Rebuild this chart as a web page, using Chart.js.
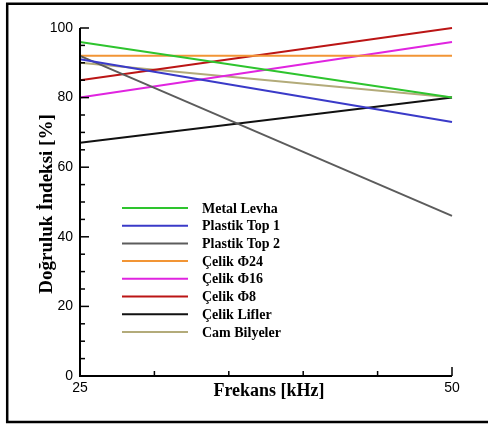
<!DOCTYPE html>
<html>
<head>
<meta charset="utf-8">
<script src="https://cdn.jsdelivr.net/npm/chart.js@4.4.0/dist/chart.umd.min.js"></script>
<style>
  html, body { margin: 0; padding: 0; background: #fff; }
  #wrap { width: 488px; height: 426px; }
</style>
</head>
<body>
<div id="wrap"><canvas id="chart" width="488" height="426"></canvas></div>
<script>
// x values (kHz)
const frequencies = [25, 50];

// series names and values (%)
const seriesNames = [
  "Metal Levha",
  "Plastik Top 1",
  "Plastik Top 2",
  "Çelik Φ24",
  "Çelik Φ16",
  "Çelik Φ8",
  "Çelik Lifler",
  "Cam Bilyeler",
];
const metalLevha = [96, 80];
const plastikTop1 = [91, 73];
const plastikTop2 = [92, 46];
const celikF24 = [92, 92];
const celikF16 = [80, 96];
const celikF8 = [85, 100];
const celikLifler = [67, 80];
const camBilyeler = [90, 80];

const seriesValues = [metalLevha, plastikTop1, plastikTop2, celikF24, celikF16, celikF8, celikLifler, camBilyeler];
const seriesColors = ["#2ec42e", "#3a3ac8", "#5c5c5c", "#f29535", "#e024e0", "#bb1515", "#111111", "#b3ab7a"];

// tick labels
const xTickLabels = [25, 50];
const yTickLabels = [0, 20, 40, 60, 80, 100];

const serif = "'Liberation Serif', 'Times New Roman', serif";
const sans = "'Liberation Sans', Arial, sans-serif";

const datasets = seriesNames.map((name, i) => ({
  label: name,
  data: frequencies.map((f, j) => ({ x: f, y: seriesValues[i][j] })),
  borderColor: seriesColors[i],
  backgroundColor: seriesColors[i],
  borderWidth: 2,
  pointRadius: 0,
  tension: 0,
  clip: 4,
}));

// axes, inward ticks, frame, legend and axis titles
const decorPlugin = {
  id: "decor",
  afterDatasetsDraw(chart) {
    const { ctx, chartArea: a, scales } = chart;
    const x = scales.x, y = scales.y;
    ctx.save();
    ctx.strokeStyle = "#000";

    // inward ticks
    ctx.lineWidth = 1.5;
    for (let v = 0; v <= 100; v += 5) {
      const py = y.getPixelForValue(v);
      const len = v % 20 === 0 ? 9 : 5;
      ctx.beginPath();
      ctx.moveTo(a.left, py);
      ctx.lineTo(a.left + len, py);
      ctx.stroke();
    }
    for (let v = 25; v <= 50; v += 5) {
      const px = x.getPixelForValue(v);
      const len = xTickLabels.includes(v) ? 9 : 5;
      ctx.beginPath();
      ctx.moveTo(px, a.bottom);
      ctx.lineTo(px, a.bottom - len);
      ctx.stroke();
    }

    // axis lines
    ctx.lineWidth = 2;
    ctx.beginPath();
    ctx.moveTo(a.left, a.top);
    ctx.lineTo(a.left, a.bottom);
    ctx.lineTo(a.right, a.bottom);
    ctx.stroke();

    // legend inside plot
    ctx.font = "bold 14px " + serif;
    ctx.textBaseline = "middle";
    ctx.textAlign = "left";
    chart.data.datasets.forEach((ds, i) => {
      const ly = 208 + i * 17.7;
      ctx.strokeStyle = ds.borderColor;
      ctx.lineWidth = 2;
      ctx.beginPath();
      ctx.moveTo(122, ly);
      ctx.lineTo(188, ly);
      ctx.stroke();
      ctx.fillStyle = "#000";
      ctx.fillText(ds.label, 202, ly + 1);
    });

    // axis titles
    ctx.fillStyle = "#000";
    ctx.font = "bold 18px " + serif;
    ctx.textAlign = "center";
    ctx.fillText("Frekans [kHz]", 269, 391);
    ctx.save();
    ctx.translate(47, 204);
    ctx.rotate(-Math.PI / 2);
    ctx.font = "bold 19px " + serif;
    ctx.fillText("Doğruluk İndeksi [%]", 0, 0);
    ctx.restore();

    // outer frame
    ctx.strokeStyle = "#000";
    ctx.lineWidth = 2.5;
    ctx.beginPath();
    ctx.moveTo(490, 3.7);
    ctx.lineTo(7.2, 3.7);
    ctx.lineTo(7.2, 422);
    ctx.lineTo(490, 422);
    ctx.stroke();
    ctx.restore();
  },
};

new Chart(document.getElementById("chart"), {
  type: "line",
  data: { datasets },
  options: {
    responsive: false,
    animation: false,
    layout: { padding: { top: 28, right: 36, left: 0, bottom: 0 } },
    plugins: { legend: { display: false }, tooltip: { enabled: false } },
    scales: {
      x: {
        type: "linear",
        min: 25,
        max: 50,
        afterFit: (s) => { s.height = 50; },
        afterBuildTicks: (s) => { s.ticks = xTickLabels.map((v) => ({ value: v })); },
        grid: { display: false, drawTicks: false },
        border: { display: false },
        ticks: { color: "#000", font: { family: sans, size: 14 }, padding: 4, maxRotation: 0 },
      },
      y: {
        min: 0,
        max: 100,
        afterFit: (s) => { s.width = 80; },
        afterBuildTicks: (s) => { s.ticks = yTickLabels.map((v) => ({ value: v })); },
        grid: { display: false, drawTicks: false },
        border: { display: false },
        ticks: { color: "#000", font: { family: sans, size: 14 }, padding: 7 },
      },
    },
  },
  plugins: [decorPlugin],
});
</script>
</body>
</html>
